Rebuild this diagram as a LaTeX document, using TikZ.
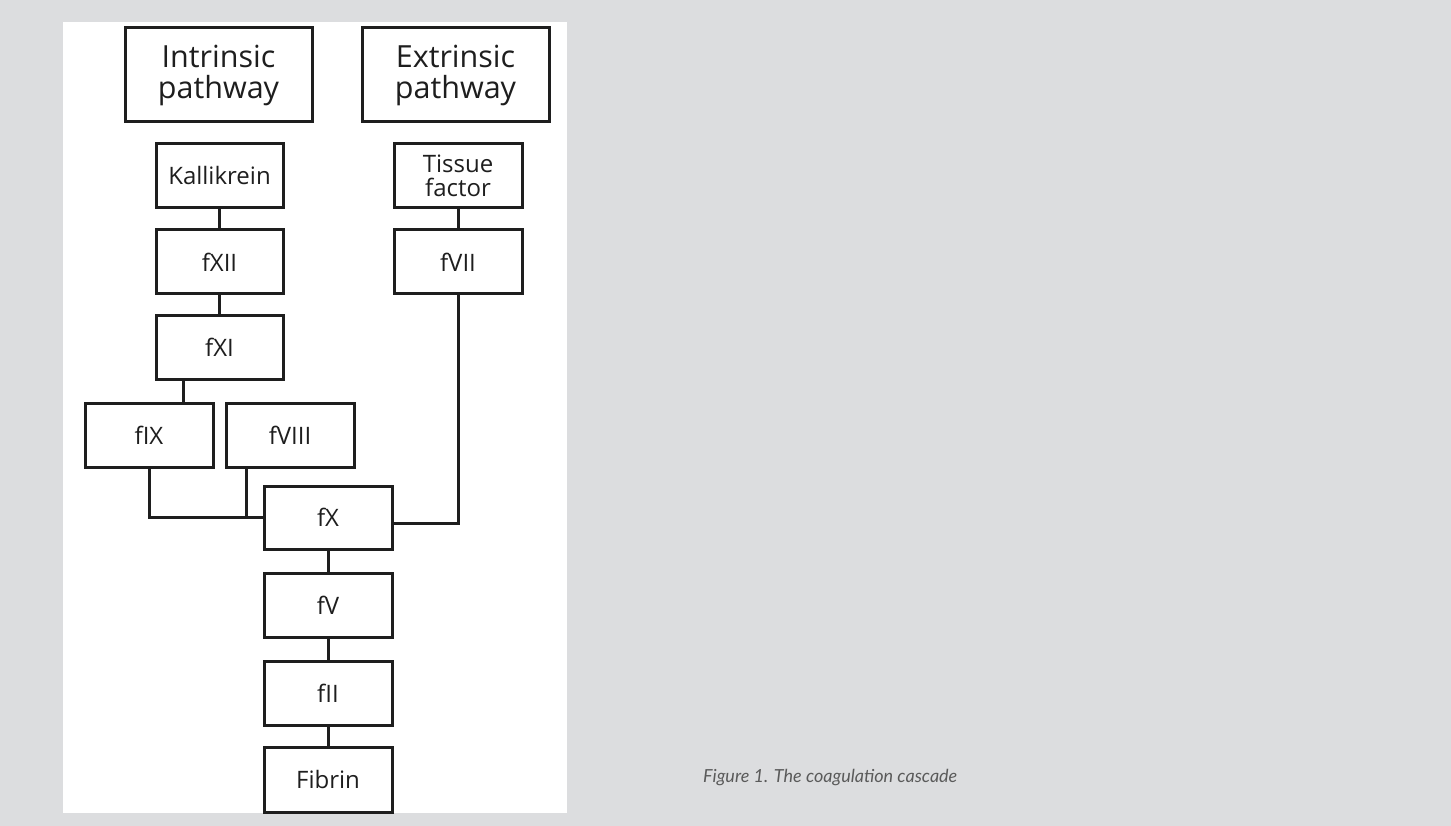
\documentclass[tikz,border=0pt]{standalone}
\usepackage{fontspec}
\setmainfont{Open Sans}
\newfontfamily\capfont{Lato}
\usepackage{tikz}
\usetikzlibrary{calc}
\usepackage{xcolor}
\definecolor{pagegray}{HTML}{DCDDDF}
\definecolor{capgray}{HTML}{5A5A5A}
\definecolor{inkblack}{HTML}{1E1E1E}

\tikzset{
  factorbox/.style={draw=inkblack,line width=3pt,fill=white,minimum width=127pt,minimum height=64pt,
    inner sep=0pt,align=center,text=inkblack,font=\fontsize{24}{23.5}\selectfont},
  pathbox/.style={factorbox,minimum width=187pt,minimum height=94pt,font=\fontsize{30.5}{31}\selectfont},
  link/.style={draw=inkblack,line width=3pt}
}

\begin{document}
\begin{tikzpicture}[x=1pt,y=-1pt,line join=miter]
  % background and white panel
  \fill[pagegray] (0,0) rectangle (1451,826);
  \fill[white] (63,22) rectangle (567,813);
  \useasboundingbox (0,0) rectangle (1451,826);

  % --- pathway headers ---
  \node[pathbox] (intr) at (218.5,75) {Intrinsic\\pathway};
  \node[pathbox] (extr) at (455.5,75) {Extrinsic\\pathway};

  % --- intrinsic branch ---
  \node[factorbox] (kal) at (219.5,176) {Kallikrein};
  \node[factorbox] (f12) at (219.5,262) {fXII};
  \node[factorbox,minimum height=63pt] (f11) at (219.5,347.5) {fXI};
  \node[factorbox,minimum width=128pt] (f9) at (149,435) {fIX};
  \node[factorbox,minimum width=128pt] (f8) at (290,435) {fVIII};

  % --- extrinsic branch ---
  \node[factorbox,minimum width=128pt] (tis) at (458,176) {Tissue\\factor};
  \node[factorbox,minimum width=128pt] (f7) at (458,262) {fVII};

  % --- common pathway ---
  \node[factorbox,minimum width=128pt,minimum height=63pt] (f10) at (328,517.5) {fX};
  \node[factorbox,minimum width=128pt] (f5) at (328,605) {fV};
  \node[factorbox,minimum width=128pt] (f2) at (328,693) {fII};
  \node[factorbox,minimum width=128pt,minimum height=65pt] (fib) at (328,779.5) {Fibrin};

  % connectors
  \draw[link] (kal) -- (f12);
  \draw[link] (f12) -- (f11);
  \draw[link] ([xshift=-36.5pt]f11.south) -- ([xshift=-36.5pt]f11.south |- f9.north);
  \draw[link] (f9.south) |- (f10.west);
  \draw[link] ([xshift=-44pt]f8.south) -- ([xshift=-44pt]f8.south |- f10.west);
  \draw[link] (tis) -- (f7);
  \draw[link] (f7.south) |- ([yshift=-5.5pt]f10.east);
  \draw[link] (f10) -- (f5);
  \draw[link] (f5) -- (f2);
  \draw[link] (f2) -- (fib);

  % caption
  \node[anchor=west,text=capgray,inner sep=0pt,font=\capfont\itshape\fontsize{18}{20}\selectfont] (cap) at (703,778) {Figure 1. The coagulation cascade};
\end{tikzpicture}
\end{document}
